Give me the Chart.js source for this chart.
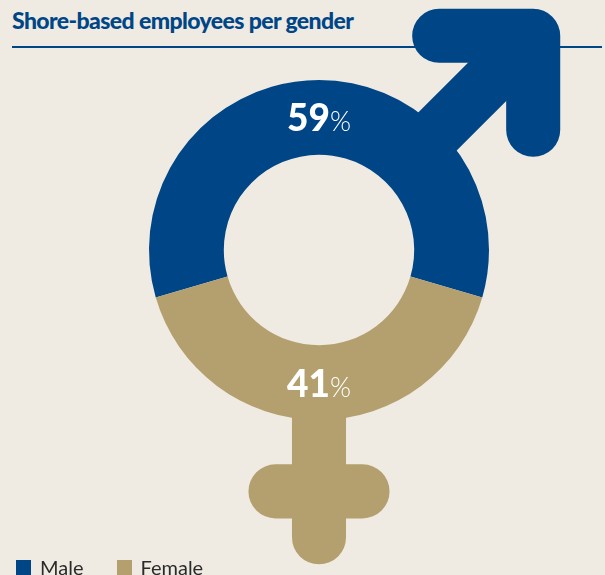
<!DOCTYPE html>
<html>
<head>
<meta charset="utf-8">
<script src="https://cdn.jsdelivr.net/npm/chart.js@4.4.1/dist/chart.umd.min.js"></script>
<style>
  html, body { margin: 0; padding: 0; }
  body {
    width: 605px; height: 575px; overflow: hidden; position: relative;
    background: #efebe2; font-family: Lato, "Open Sans", sans-serif;
  }
  .title {
    position: absolute; left: 12px; top: 6px;
    font-size: 23px; font-weight: 900; color: #004687; letter-spacing: -0.6px;
  }
  .rule { position: absolute; left: 12px; top: 46px; width: 590px; height: 2px; background: #004687; }
  #genderChart { position: absolute; left: 0; top: 0; }
  .legend { position: absolute; left: 16px; top: 555px; display: flex; font-size: 20px; color: #2a2a2a; }
  .legend-item { display: flex; align-items: center; margin-right: 33px; }
  .legend-swatch { width: 15px; height: 15px; margin-right: 9px; }
</style>
</head>
<body>
<div class="title">Shore-based employees per gender</div>
<div class="rule"></div>
<canvas id="genderChart" width="605" height="575"></canvas>
<div class="legend" id="legend"></div>

<script>
// ===== GENDER SPLIT =====

const GENDERS = ['Male', 'Female'];
const SHARES = [59, 41];
const COLORS = ['#004687', '#b4a06e'];

// male/female glyph strokes behind the ring
const genderSymbols = {
  id: 'genderSymbols',
  beforeDatasetsDraw(chart) {
    const arcs = chart.getDatasetMeta(0).data;
    const { x: cx, y: cy, outerRadius: R, innerRadius: r } = arcs[0];
    const mid = (R + r) / 2;
    const w = R * 0.318;
    const ctx = chart.ctx;
    ctx.save();
    ctx.lineWidth = w;
    ctx.lineJoin = 'round';

    // arrow
    const d = R * 1.26, bar = R * 0.553;
    const tipX = cx + d, tipY = cy - d;
    ctx.strokeStyle = COLORS[0];
    ctx.lineCap = 'butt';
    ctx.beginPath();
    ctx.moveTo(cx + mid * Math.SQRT1_2, cy - mid * Math.SQRT1_2);
    ctx.lineTo(tipX, tipY);
    ctx.stroke();
    ctx.lineCap = 'round';
    ctx.beginPath();
    ctx.moveTo(tipX - bar, tipY);
    ctx.lineTo(tipX, tipY);
    ctx.lineTo(tipX, tipY + bar);
    ctx.stroke();

    // cross
    ctx.strokeStyle = COLORS[1];
    ctx.beginPath();
    ctx.moveTo(cx, cy + mid);
    ctx.lineTo(cx, cy + R * 1.69);
    ctx.moveTo(cx - R * 0.256, cy + R * 1.42);
    ctx.lineTo(cx + R * 0.256, cy + R * 1.42);
    ctx.stroke();
    ctx.restore();
  },
  afterDatasetsDraw(chart) {
    const ctx = chart.ctx;
    const arcs = chart.getDatasetMeta(0).data;
    ctx.save();
    ctx.fillStyle = '#ffffff';
    ctx.textBaseline = 'alphabetic';
    arcs.forEach((arc, i) => {
      const p = arc.tooltipPosition();
      const num = String(SHARES[i]);
      ctx.font = '900 37px Lato';
      const nw = ctx.measureText(num).width;
      ctx.font = '300 27px Lato';
      const pw = ctx.measureText('%').width;
      const x0 = p.x - (nw + pw) / 2;
      const base = p.y + 14;
      ctx.font = '900 37px Lato';
      ctx.fillText(num, x0, base);
      ctx.font = '300 27px Lato';
      ctx.fillText('%', x0 + nw, base);
    });
    ctx.restore();
  }
};

function renderLegend() {
  const box = document.getElementById('legend');
  box.innerHTML = GENDERS.map((g, i) => `
    <div class="legend-item">
      <span class="legend-swatch" style="background:${COLORS[i]}"></span>${g}
    </div>
  `).join('');
}

function renderChart() {
  const total = SHARES.reduce((a, b) => a + b, 0);
  new Chart(document.getElementById('genderChart'), {
    type: 'doughnut',
    data: {
      labels: GENDERS,
      datasets: [{
        data: SHARES,
        backgroundColor: COLORS,
        borderWidth: 0,
        hoverOffset: 0,
        offset: 0
      }]
    },
    options: {
      responsive: false,
      animation: false,
      events: [],
      cutout: '56%',
      // keep the male share centred on top
      rotation: -SHARES[0] / total * 180,
      layout: { padding: { left: 149, right: 116, top: 80, bottom: 155 } },
      plugins: { legend: { display: false }, tooltip: { enabled: false } }
    },
    plugins: [genderSymbols]
  });
}

renderLegend();
renderChart();
</script>
</body>
</html>
